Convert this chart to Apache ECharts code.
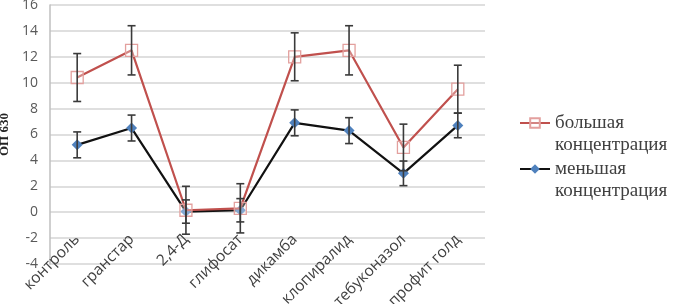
<!DOCTYPE html>
<html><head><meta charset="utf-8">
<script src="https://cdn.jsdelivr.net/npm/echarts@6/dist/echarts.min.js"></script>
<style>html,body{margin:0;padding:0;background:#fff}#c{width:674px;height:304px}</style>
</head><body><div id="c"></div>
<script>
var categories = ['контроль','гранстар','2,4-Д','глифосат','дикамба','клопиралид','тебуконазол','профит голд'];
var highValues = [10.4, 12.5, 0.15, 0.3, 12.0, 12.5, 5.0, 9.5];
var highErr = [1.85, 1.9, 1.85, 1.9, 1.85, 1.9, 1.8, 1.85];
var lowValues = [5.2, 6.5, 0.05, 0.15, 6.9, 6.3, 3.0, 6.7];
var lowErr = [1.0, 1.0, 0.9, 0.9, 1.0, 1.0, 0.95, 0.95];
var yTicks = {min: -4, max: 16, interval: 2};
var seriesNames = ['большая концентрация', 'меньшая концентрация'];

function errData(vals, errs){
  return vals.map(function(v,i){return [i, v-errs[i], v+errs[i]];});
}
function errRender(params, api){
  var x = api.value(0);
  var lo = api.coord([x, api.value(1)]);
  var hi = api.coord([x, api.value(2)]);
  var w = 4;
  var st = {stroke:'#3a3a3a', lineWidth:1.6};
  return {type:'group', children:[
    {type:'line', shape:{x1:lo[0],y1:lo[1],x2:hi[0],y2:hi[1]}, style:st},
    {type:'line', shape:{x1:lo[0]-w,y1:lo[1],x2:lo[0]+w,y2:lo[1]}, style:st},
    {type:'line', shape:{x1:hi[0]-w,y1:hi[1],x2:hi[0]+w,y2:hi[1]}, style:st}
  ]};
}
var chart = echarts.init(document.getElementById('c'));
chart.setOption({
  animation:false,
  textStyle:{fontFamily:'Liberation Serif'},
  grid:{left:50, right:189, top:5, bottom:40, containLabel:false, outerBoundsMode:'none'},
  legend:{
    orient:'vertical', left:519, top:90, padding:0, itemWidth:30, itemHeight:12, itemGap:-20,
    data:seriesNames,
    formatter:function(n){return '\n' + n.replace(' ','\n');},
    textStyle:{fontFamily:'Liberation Serif', fontSize:19, color:'#404040', lineHeight:22}
  },
  xAxis:{type:'category', data:categories, boundaryGap:true,
    axisLine:{show:false}, axisTick:{show:false}, splitLine:{show:false},
    axisLabel:{rotate:45, margin:-27, padding:0, fontFamily:'Open Sans', fontSize:15.5, color:'#404040', interval:0}
  },
  yAxis:{type:'value', min:yTicks.min, max:yTicks.max, interval:yTicks.interval,
    name:'ОП 630', nameLocation:'middle', nameGap:36, nameRotate:90,
    nameTextStyle:{fontFamily:'Liberation Serif', fontWeight:'bold', fontSize:13, color:'#222'},
    axisLine:{show:true, lineStyle:{color:'#bfbfbf', width:1.5}}, axisTick:{show:false},
    splitLine:{lineStyle:{color:'#d4d4d4', width:1.5}},
    axisLabel:{fontFamily:'Open Sans', fontSize:14, color:'#595959', margin:12}
  },
  series:[
    {name:seriesNames[1], type:'line', data:lowValues, z:3,
      lineStyle:{color:'#111', width:2.2}, itemStyle:{color:'#4f81bd'},
      symbol:'diamond', symbolSize:11},
    {name:seriesNames[0], type:'line', data:highValues, z:4,
      lineStyle:{color:'#c0504d', width:2.2}, itemStyle:{color:'rgba(255,255,255,0.3)', borderColor:'#e3a09e', borderWidth:1.3},
      symbol:'rect', symbolSize:12},
    {type:'custom', renderItem:errRender, data:errData(highValues, highErr), z:5, silent:true},
    {type:'custom', renderItem:errRender, data:errData(lowValues, lowErr), z:5, silent:true}
  ]
});
</script></body></html>
